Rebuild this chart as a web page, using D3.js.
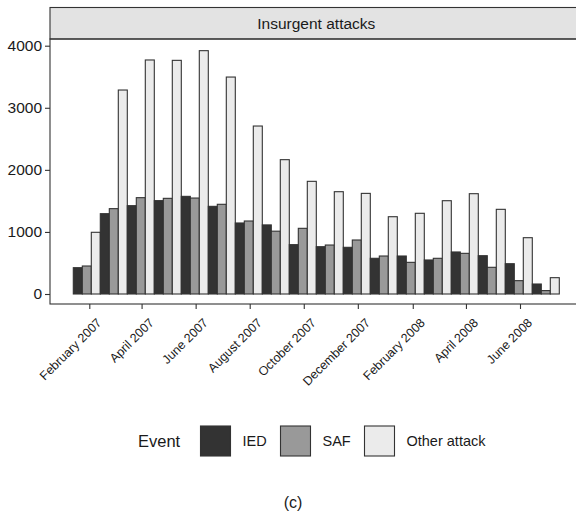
<!DOCTYPE html>
<html>
<head>
<meta charset="utf-8">
<script src="https://cdn.jsdelivr.net/npm/d3@7/dist/d3.min.js"></script>
<style>
  html, body { margin: 0; padding: 0; background: #fff; }
  svg { display: block; font-family: "Liberation Sans", Arial, Helvetica, sans-serif; }
</style>
</head>
<body>
<svg id="chart" width="576" height="516"></svg>
<script>
// Monthly counts of insurgent attacks, Feb 2007 – Jul 2008
const months = ["2007-02","2007-03","2007-04","2007-05","2007-06","2007-07","2007-08","2007-09",
                "2007-10","2007-11","2007-12","2008-01","2008-02","2008-03","2008-04","2008-05",
                "2008-06","2008-07"];
const ied   = [424, 1294, 1423, 1504, 1573, 1412, 1144, 1113, 795, 762, 752, 575, 612, 548, 677, 617, 488, 161];
const saf   = [451, 1375, 1552, 1541, 1546, 1445, 1176, 1012, 1058, 789, 870, 612, 510, 575, 655, 430, 215, 55];
const other = [994, 3286, 3770, 3764, 3920, 3495, 2706, 2164, 1815, 1648, 1621, 1245, 1300, 1503, 1616, 1364, 907, 263];
const events = ["IED", "SAF", "Other attack"];
const eventColors = ["#333333", "#999999", "#ebebeb"];
const yTicks = [0, 1000, 2000, 3000, 4000];
const xTickMonths = ["2007-02","2007-04","2007-06","2007-08","2007-10","2007-12","2008-02","2008-04","2008-06"];

const parseMonth = d3.timeParse("%Y-%m");
const series = [ied, saf, other];
const rows = months.map((m, i) => ({ month: m, values: events.map((e, k) => ({ event: e, k, value: series[k][i] })) }));

const svg = d3.select("#chart");
// the panel runs slightly past the right edge of the canvas
const panel = { left: 50, right: 582.6, top: 39, bottom: 304 };
const strip = { top: 7.5, bottom: 39 };

const y = d3.scaleLinear().domain([0, 4000]).range([294, 45.7]);
const xGroup = d3.scaleBand().domain(months).range([73.3, 559.3]).padding(0);
const xEvent = d3.scaleBand().domain(events).range([0, xGroup.bandwidth()]).padding(0);
const xTime = d3.scaleTime()
  .domain([parseMonth("2007-02"), parseMonth("2008-06")])
  .range([89.3, 520]);
const color = d3.scaleOrdinal().domain(events).range(eventColors);

// strip
svg.append("rect")
  .attr("x", panel.left).attr("y", strip.top)
  .attr("width", panel.right - panel.left).attr("height", strip.bottom - strip.top)
  .attr("fill", "#e3e3e3").attr("stroke", "#333").attr("stroke-width", 1.1);
svg.append("text")
  .attr("x", (panel.left + panel.right) / 2).attr("y", (strip.top + strip.bottom) / 2)
  .attr("dy", "0.35em").attr("text-anchor", "middle")
  .attr("font-size", 15.5).attr("fill", "#1a1a1a")
  .text("Insurgent attacks");

// bars
const groups = svg.append("g").selectAll("g").data(rows).join("g")
  .attr("transform", d => `translate(${xGroup(d.month)},0)`);
groups.selectAll("rect").data(d => d.values).join("rect")
  .attr("x", d => xEvent(d.event))
  .attr("width", xEvent.bandwidth())
  .attr("y", d => y(d.value))
  .attr("height", d => y(0) - y(d.value))
  .attr("fill", d => color(d.event))
  .attr("stroke", "#333").attr("stroke-width", 1.1);

// panel border
svg.append("rect")
  .attr("x", panel.left).attr("y", panel.top)
  .attr("width", panel.right - panel.left).attr("height", panel.bottom - panel.top)
  .attr("fill", "none").attr("stroke", "#333").attr("stroke-width", 1.1);

// y axis
const yAxis = svg.append("g").attr("transform", `translate(${panel.left},0)`)
  .call(d3.axisLeft(y).tickValues(yTicks).tickSize(5).tickPadding(3).tickFormat(d3.format("d")));
yAxis.select(".domain").remove();
yAxis.selectAll("line").attr("stroke", "#333").attr("stroke-width", 1.1);
yAxis.selectAll("text").attr("font-size", 15.5).attr("fill", "#1a1a1a").attr("font-family", "Liberation Sans, Arial, sans-serif");

// x axis
const xAxis = svg.append("g").attr("transform", `translate(0,${panel.bottom})`)
  .call(d3.axisBottom(xTime).tickValues(xTickMonths.map(parseMonth)).tickSize(5).tickSizeOuter(0)
    .tickFormat(d3.timeFormat("%B %Y")));
xAxis.select(".domain").remove();
xAxis.selectAll("line").attr("stroke", "#333").attr("stroke-width", 1.1);
xAxis.selectAll("text")
  .attr("font-size", 12.5).attr("fill", "#1a1a1a").attr("font-family", "Liberation Sans, Arial, sans-serif")
  .attr("text-anchor", "end")
  .attr("dy", null).attr("y", null)
  .attr("transform", "translate(12.5,19.5) rotate(-45)");

// legend
const legend = svg.append("g").attr("transform", "translate(0,441)");
legend.append("text").attr("x", 138).attr("dy", "0.35em")
  .attr("font-size", 16.5).attr("fill", "#1a1a1a").text("Event");
const keyX = [200.5, 280.5, 364.5];
const item = legend.selectAll("g.key").data(events).join("g").attr("class", "key")
  .attr("transform", (d, i) => `translate(${keyX[i]},0)`);
item.append("rect").attr("x", 0).attr("y", -15).attr("width", 30).attr("height", 30)
  .attr("fill", d => color(d)).attr("stroke", "#333").attr("stroke-width", 1.1);
item.append("text").attr("x", 42).attr("dy", "0.35em")
  .attr("font-size", 14.5).attr("fill", "#1a1a1a").text(d => d);

// caption
svg.append("text").attr("x", 293).attr("y", 502).attr("dy", "0.35em")
  .attr("text-anchor", "middle").attr("font-size", 16).attr("fill", "#1a1a1a").text("(c)");
</script>
</body>
</html>
